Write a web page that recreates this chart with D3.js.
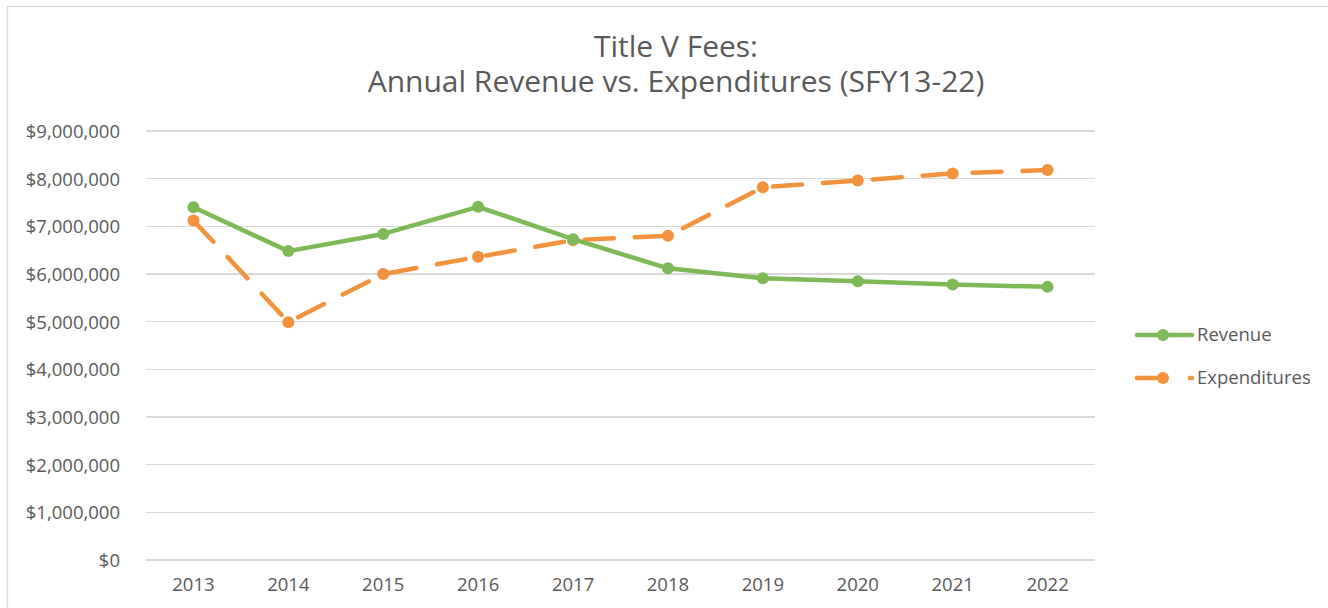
<!DOCTYPE html>
<meta charset="utf-8">
<style>
  body { margin: 0; background: #fff; }
  svg text { font-family: "Open Sans", sans-serif; fill: #595959; }
  .axis path, .axis line { display: none; }
  .axis text { font-size: 18.5px; }
  .grid line { stroke: #d9d9d9; stroke-width: 1.3; shape-rendering: crispEdges; }
</style>
<body>
<svg width="1328" height="608"></svg>
<script src="https://d3js.org/d3.v7.min.js"></script>
<script>
 var years = ["2013","2014","2015","2016","2017","2018","2019","2020","2021","2022"];
 var revenue = [7400000, 6480000, 6840000, 7410000, 6730000, 6120000, 5910000, 5850000, 5780000, 5730000];
 var expenditures = [7120000, 4990000, 6000000, 6360000, 6710000, 6800000, 7820000, 7960000, 8110000, 8180000];
 var yTicks = [0, 1000000, 2000000, 3000000, 4000000, 5000000, 6000000, 7000000, 8000000, 9000000];
 var seriesNames = ["Revenue", "Expenditures"];
 var titleLines = ["Title V Fees:", "Annual Revenue vs. Expenditures (SFY13-22)"];

 var svg = d3.select("svg");
 var margin = {top: 131, left: 146, right: 233, bottom: 48};
 var width = 1328 - margin.left - margin.right,
     height = 608 - margin.top - margin.bottom;

 // chart border
 svg.append("rect")
    .attr("x", 7.5).attr("y", 6.5)
    .attr("width", 1340).attr("height", 620)
    .attr("fill", "none")
    .attr("stroke", "#d9d9d9")
    .attr("stroke-width", 1.3);

 // two-line title as one text
 var title = svg.append("text")
    .attr("text-anchor", "middle")
    .style("font-size", "30px");
 title.selectAll("tspan").data(titleLines).enter().append("tspan")
    .attr("x", 676)
    .attr("y", function(d, i) { return 57 + i * 35; })
    .text(function(d) { return d; });

 var g = svg.append("g").attr("transform", "translate(" + margin.left + "," + margin.top + ")");

 var x = d3.scaleBand().domain(years).range([0, width]);
 var y = d3.scaleLinear().domain([0, 9000000]).range([height, 0]);

 g.append("g").attr("class", "grid")
  .selectAll("line").data(yTicks).enter().append("line")
  .attr("x1", 0).attr("x2", width)
  .attr("y1", function(d) { return y(d); })
  .attr("y2", function(d) { return y(d); });

 g.append("g").attr("class", "axis")
  .attr("transform", "translate(-23,0)")
  .call(d3.axisLeft(y).tickValues(yTicks).tickSize(0)
    .tickFormat(function(d) { return "$" + d3.format(",")(d); }))
  .selectAll("text").attr("dy", "0.35em");

 g.append("g").attr("class", "axis")
  .attr("transform", "translate(0," + (height + 15) + ")")
  .call(d3.axisBottom(x).tickSize(0))
  .selectAll("text").attr("dy", "0.71em");

 var series = [
   {name: seriesNames[0], values: revenue, color: "#7db956", dash: null},
   {name: seriesNames[1], values: expenditures, color: "#f2923d", dash: "29,21"}
 ];

 var line = d3.line()
   .x(function(d, i) { return x(years[i]) + x.bandwidth() / 2; })
   .y(function(d) { return y(d); });

 series.slice().reverse().forEach(function(s) {
   g.append("path")
    .datum(s.values)
    .attr("d", line)
    .attr("fill", "none")
    .attr("stroke", s.color)
    .attr("stroke-width", 4.5)
    .attr("stroke-linecap", "round")
    .attr("stroke-linejoin", "round")
    .attr("stroke-dasharray", s.dash);
   g.selectAll(null).data(s.values).enter().append("circle")
    .attr("cx", function(d, i) { return x(years[i]) + x.bandwidth() / 2; })
    .attr("cy", function(d) { return y(d); })
    .attr("r", 6)
    .attr("fill", s.color);
 });

 // legend
 var legend = svg.append("g").attr("transform", "translate(1137,335)");
 series.forEach(function(s, i) {
   var lg = legend.append("g").attr("transform", "translate(0," + (i * 43) + ")");
   lg.append("line")
     .attr("x1", 0).attr("x2", 55)
     .attr("stroke", s.color)
     .attr("stroke-width", 4.5)
     .attr("stroke-linecap", "round")
     .attr("stroke-dasharray", s.dash ? "28,25" : null);
   lg.append("circle").attr("cx", 26).attr("r", 6).attr("fill", s.color);
   lg.append("text")
     .attr("x", 60)
     .attr("dy", "0.35em")
     .style("font-size", "18.5px")
     .text(s.name);
 });
</script>
</body>
